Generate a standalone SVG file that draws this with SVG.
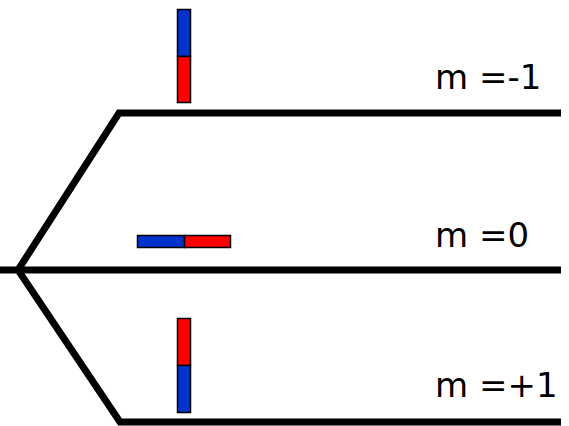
<svg xmlns="http://www.w3.org/2000/svg" width="569" height="426" viewBox="0 0 569 426">
<style>
.ln{fill:none;stroke:#000;stroke-width:7;stroke-linejoin:miter}
.b{fill:#0033cc;stroke:#000;stroke-width:1.5}
.r{fill:#ff0000;stroke:#000;stroke-width:1.5}
.t{font-family:"DejaVu Sans",sans-serif;font-size:34px;fill:#000}
</style>
<rect width="569" height="426" fill="#fff"/>
<g id="connectors">
<path class="ln" d="M561,113 H119 L18,270 L120,422 H561"/>
<path class="ln" d="M0,270 H561"/>
</g>
<g id="magnet-top">
<rect class="b" x="177.5" y="9.5" width="13" height="47"/>
<rect class="r" x="177.5" y="56.5" width="13" height="46"/>
</g>
<g id="magnet-mid">
<rect class="b" x="137.5" y="235.5" width="47" height="12"/>
<rect class="r" x="184.5" y="235.5" width="46" height="12"/>
</g>
<g id="magnet-bot">
<rect class="r" x="177.5" y="318.5" width="13" height="47"/>
<rect class="b" x="177.5" y="365.5" width="13" height="47"/>
</g>
<g id="label-m-1"><text class="t" x="435" y="89">m =-1</text></g>
<g id="label-m0"><text class="t" x="435" y="247">m =0</text></g>
<g id="label-m+1"><text class="t" x="435" y="397">m =+1</text></g>
</svg>
